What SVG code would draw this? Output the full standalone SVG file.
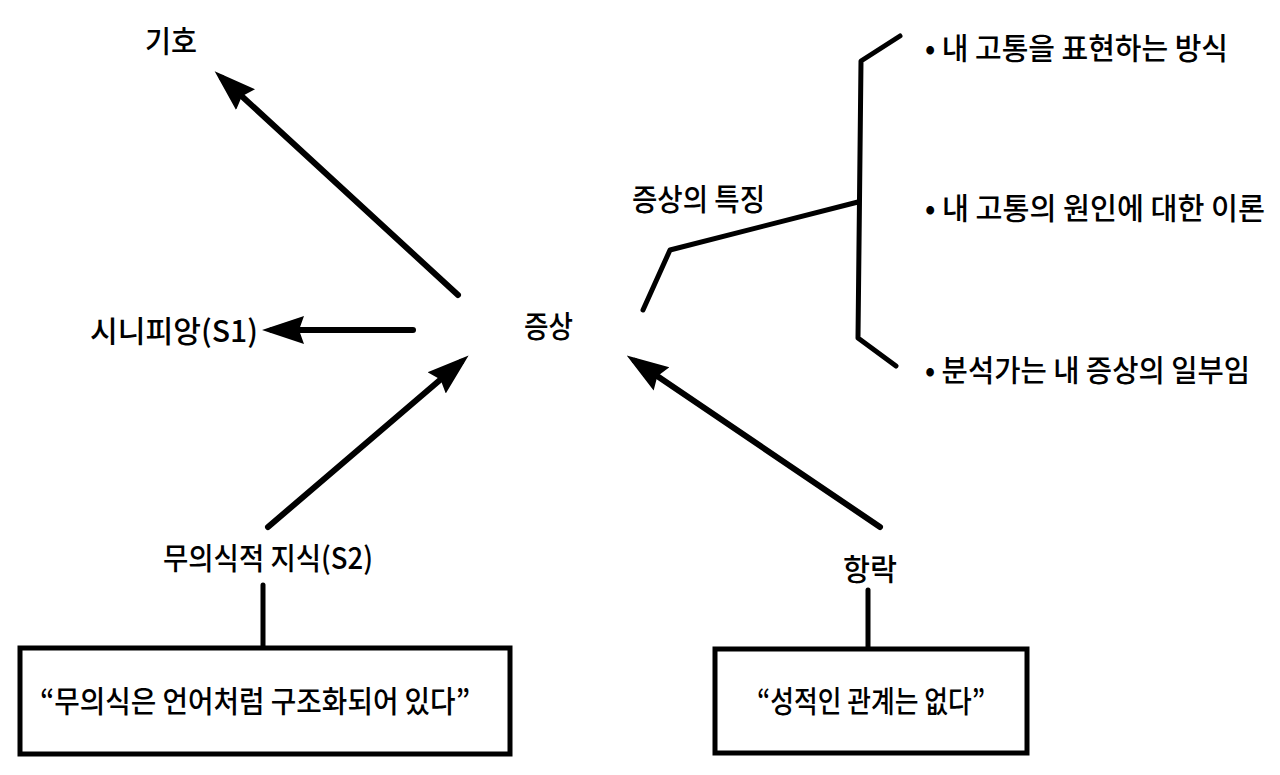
<svg xmlns="http://www.w3.org/2000/svg" width="1280" height="775" viewBox="0 0 1280 775">
<style>
.t{font-family:"Noto Sans CJK KR","Noto Sans",sans-serif;font-size:30px;font-weight:500;fill:#000}
.c{stroke:#000;stroke-width:6;fill:none;stroke-linecap:round;stroke-linejoin:round}
.l{stroke:#000;stroke-width:5;fill:none;stroke-linecap:round;stroke-linejoin:round}
.box{stroke:#000;stroke-width:5;fill:#fff}
</style>
<defs>
<marker id="ah" viewBox="0 0 42 30" markerWidth="42" markerHeight="30" refX="32" refY="15" markerUnits="userSpaceOnUse" orient="auto">
<path d="M0,1 L42,15 L0,29 L5,15 Z" fill="#000"/>
</marker>
</defs>
<rect width="1280" height="775" fill="#fff"/>
<g id="connectors">
<line class="c" x1="458" y1="295" x2="222" y2="78" marker-end="url(#ah)"/>
<line class="c" x1="413" y1="330" x2="272" y2="330" marker-end="url(#ah)"/>
<line class="c" x1="268" y1="527" x2="461" y2="362" marker-end="url(#ah)"/>
<line class="c" x1="880" y1="527" x2="635" y2="361" marker-end="url(#ah)"/>
<polyline class="l" points="643,310 670,250 858,202"/>
<polyline class="l" points="900,36 861,61 858,338 896,366"/>
<line class="l" x1="263" y1="585" x2="263" y2="647"/>
<line class="l" x1="868" y1="590" x2="868" y2="648"/>
</g>
<g id="sign"><text class="t" x="145" y="52" textLength="52" lengthAdjust="spacingAndGlyphs">기호</text></g>
<g id="signifier"><text class="t" x="90" y="342" textLength="168" lengthAdjust="spacingAndGlyphs">시니피앙(S1)</text></g>
<g id="symptom"><text class="t" x="524" y="337" textLength="49" lengthAdjust="spacingAndGlyphs">증상</text></g>
<g id="features"><text class="t" x="632" y="210" textLength="133" lengthAdjust="spacingAndGlyphs">증상의 특징</text></g>
<g id="item1"><text class="t" x="925" y="59" textLength="303" lengthAdjust="spacingAndGlyphs">• 내 고통을 표현하는 방식</text></g>
<g id="item2"><text class="t" x="925" y="219" textLength="340" lengthAdjust="spacingAndGlyphs">• 내 고통의 원인에 대한 이론</text></g>
<g id="item3"><text class="t" x="925" y="381" textLength="325" lengthAdjust="spacingAndGlyphs">• 분석가는 내 증상의 일부임</text></g>
<g id="knowledge"><text class="t" x="163" y="569" textLength="210" lengthAdjust="spacingAndGlyphs">무의식적 지식(S2)</text></g>
<g id="jouissance"><text class="t" x="843" y="580" textLength="54" lengthAdjust="spacingAndGlyphs">항락</text></g>
<g id="box-left">
<rect class="box" x="20" y="648" width="490" height="106"/>
<text class="t" x="40" y="712" textLength="430" lengthAdjust="spacingAndGlyphs">“무의식은 언어처럼 구조화되어 있다”</text>
</g>
<g id="box-right">
<rect class="box" x="715" y="649" width="312" height="104"/>
<text class="t" x="757" y="712" textLength="228" lengthAdjust="spacingAndGlyphs">“성적인 관계는 없다”</text>
</g>
</svg>
